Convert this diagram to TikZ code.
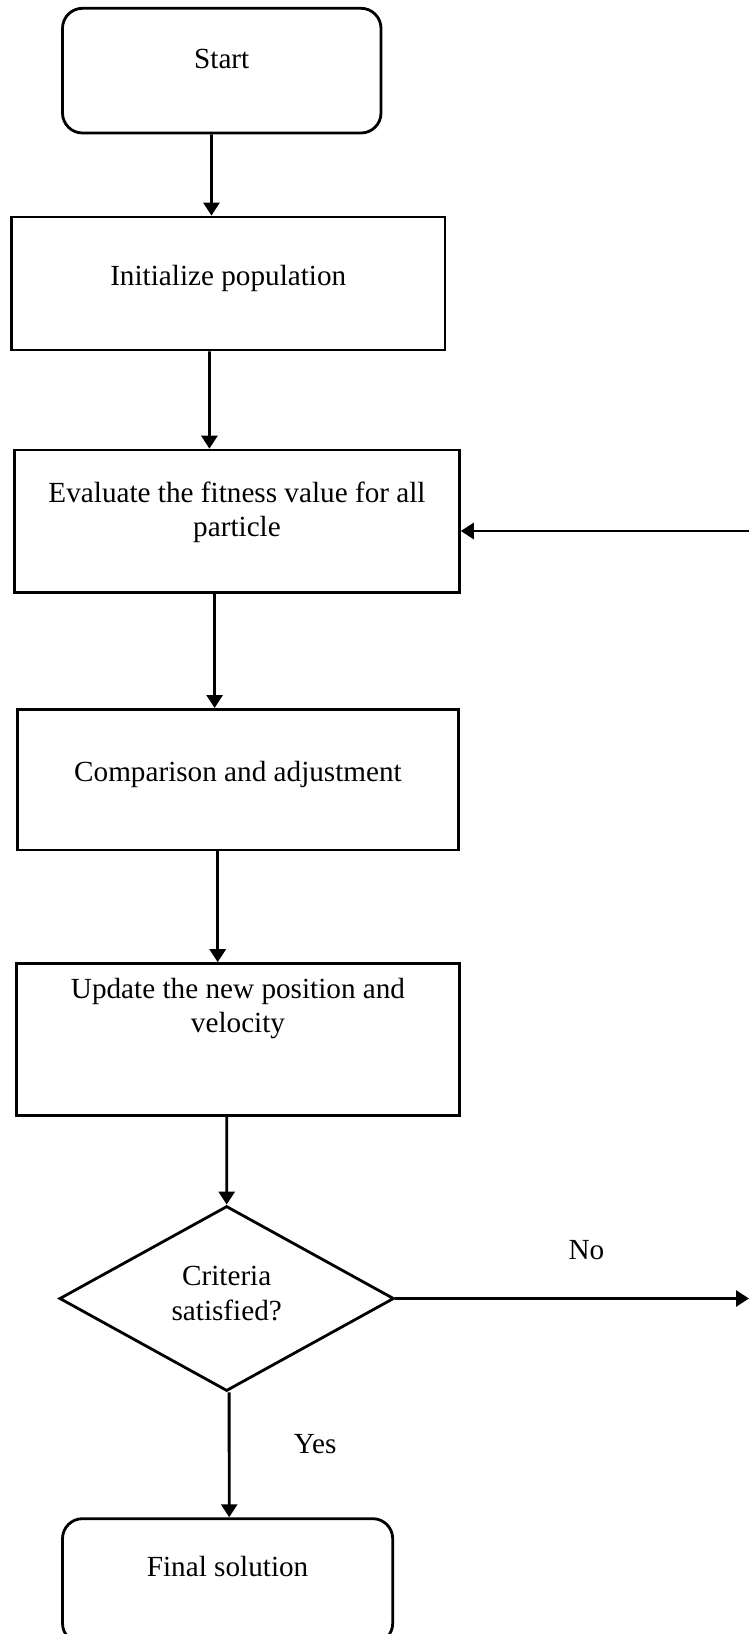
\documentclass[tikz,border=0pt]{standalone}
\usepackage{fontspec}
\setmainfont{Liberation Serif}
\usetikzlibrary{shapes.geometric, arrows.meta}

\begin{document}
\begin{tikzpicture}[
    x=0.5pt, y=-0.5pt,
    terminal/.style={rectangle, draw, line width=1.4pt, rounded corners=10pt, minimum width=#1, minimum height=62.35pt, align=center, font=\fontsize{14.6}{17.2}\selectfont},
    process/.style={rectangle, draw, line width=1.4pt, align=center, font=\fontsize{14.6}{17.2}\selectfont},
    decision/.style={diamond, draw, line width=1.4pt, minimum width=167.3pt, minimum height=92.5pt, inner sep=0pt, align=center, font=\fontsize{14.6}{17.2}\selectfont},
    line/.style={draw, line width=1.4pt, -{Triangle[length=6.5pt, width=8pt]}, font=\fontsize{14.6}{17.2}\selectfont}
]
\useasboundingbox (0,0) rectangle (749,1634);

% Flow Nodes
\node[terminal=159.25pt, text depth=12pt] (start) at (221.75,70.65) {Start};
\node[process, minimum width=216.75pt, minimum height=66.5pt, text depth=8.5pt] (init) at (228.25,283.5) {Initialize population};
\node[process, minimum width=222.4pt, minimum height=71.35pt, text depth=12pt] (eval) at (237,521.4) {Evaluate the fitness value for all\\particle};
\node[process, minimum width=220.3pt, minimum height=70.3pt, text depth=8.5pt] (comp) at (238,779.7) {Comparison and adjustment};
\node[process, minimum width=221.35pt, minimum height=76pt, text depth=34pt] (update) at (238,1039.6) {Update the new position and\\velocity};
\node[decision, text depth=5pt] (check) at (226.7,1298.5) {Criteria\\satisfied?};
\node[terminal=165.1pt, text depth=15pt] (final) at (227.6,1581) {Final solution};

% Loop Ends at the Right Edge
\coordinate (noend) at (749,1298.5);
\coordinate (loopin) at (749,531);

% Connections
\path [line] ([xshift=-5.1pt]start.south) -- ([xshift=-8.4pt]init.north);
\path [line] ([xshift=-9.4pt]init.south) -- ([xshift=-13.8pt]eval.north);
\path [line] ([xshift=-11.2pt]eval.south) -- ([xshift=-11.7pt]comp.north);
\path [line] ([xshift=-10.15pt]comp.south) -- ([xshift=-10.15pt]update.north);
\path [line] ([xshift=-5.65pt]update.south) -- (check.north);
\path [line] ([xshift=1.2pt]check.south) -- node[pos=0.41, xshift=43pt] {Yes} ([xshift=0.8pt]final.north);
\path [line] (check.east) -- node[pos=0.54, yshift=24pt] {No} (noend);
\path [line] (loopin) -- (loopin -| eval.east);

\end{tikzpicture}
\end{document}
